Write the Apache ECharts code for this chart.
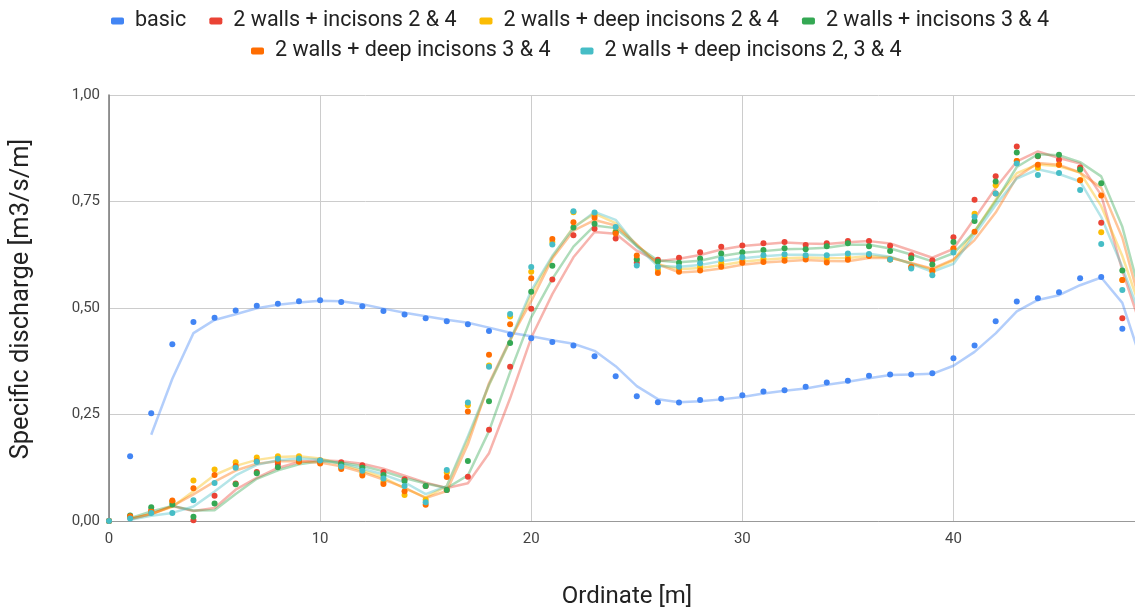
<!DOCTYPE html>
<html>
<head>
<meta charset="utf-8">
<script src="https://cdn.jsdelivr.net/npm/echarts@6/dist/echarts.min.js"></script>
<style>
html,body{margin:0;padding:0;background:#fff;}
#chart{width:1135px;height:612px;}
</style>
</head>
<body>
<div id="chart"></div>
<script>
// Ordinate [m] for the coloured series (0..49); basic starts at 1
const ordinates = [0,1,2,3,4,5,6,7,8,9,10,11,12,13,14,15,16,17,18,19,20,21,22,23,24,25,26,27,28,29,30,31,32,33,34,35,36,37,38,39,40,41,42,43,44,45,46,47,48,49];
const basicOrdinates = ordinates.slice(1);

const seriesNames = ["basic","2 walls + incisons 2 & 4","2 walls + deep incisons 2 & 4","2 walls + incisons 3 & 4","2 walls + deep incisons 3 & 4","2 walls + deep incisons 2, 3 & 4"];

const basic = [0.152,0.253,0.415,0.467,0.477,0.494,0.505,0.510,0.516,0.518,0.514,0.504,0.493,0.485,0.476,0.469,0.462,0.446,0.438,0.429,0.420,0.412,0.387,0.340,0.293,0.279,0.278,0.284,0.287,0.295,0.304,0.307,0.315,0.325,0.329,0.341,0.344,0.344,0.347,0.382,0.412,0.469,0.515,0.523,0.537,0.570,0.573,0.451,0.27];

const incisions24 = [0,0.008,0.025,0.045,0.002,0.059,0.088,0.115,0.134,0.143,0.142,0.138,0.131,0.115,0.098,0.082,0.073,0.104,0.214,0.362,0.498,0.567,0.671,0.686,0.663,0.606,0.613,0.618,0.631,0.644,0.647,0.652,0.655,0.648,0.652,0.657,0.657,0.646,0.624,0.612,0.666,0.754,0.809,0.879,0.856,0.848,0.830,0.700,0.476,0.40];

const deep24 = [0,0.010,0.022,0.045,0.095,0.121,0.138,0.149,0.152,0.152,0.142,0.125,0.112,0.092,0.061,0.050,0.114,0.272,0.365,0.480,0.585,0.655,0.725,0.718,0.680,0.615,0.590,0.592,0.596,0.605,0.612,0.615,0.618,0.619,0.615,0.620,0.624,0.614,0.595,0.585,0.638,0.721,0.788,0.845,0.829,0.836,0.800,0.678,0.566,0.39];

const incisions34 = [0,0.013,0.032,0.039,0.010,0.041,0.086,0.112,0.126,0.140,0.140,0.133,0.125,0.108,0.094,0.082,0.073,0.141,0.281,0.418,0.538,0.599,0.689,0.698,0.677,0.614,0.609,0.606,0.616,0.628,0.631,0.636,0.640,0.638,0.645,0.652,0.645,0.634,0.617,0.602,0.655,0.704,0.797,0.865,0.857,0.860,0.825,0.793,0.588,0.42];

const deep34 = [0,0.011,0.022,0.048,0.077,0.108,0.129,0.140,0.141,0.139,0.135,0.122,0.107,0.087,0.070,0.038,0.103,0.257,0.390,0.462,0.570,0.662,0.701,0.712,0.675,0.623,0.582,0.585,0.588,0.597,0.606,0.608,0.611,0.614,0.607,0.613,0.622,0.614,0.597,0.588,0.640,0.679,0.769,0.845,0.836,0.836,0.800,0.764,0.566,0.40];

const deep234 = [0,0.006,0.019,0.019,0.049,0.089,0.125,0.139,0.146,0.147,0.142,0.128,0.118,0.100,0.082,0.044,0.120,0.278,0.362,0.486,0.596,0.649,0.727,0.724,0.690,0.600,0.597,0.597,0.605,0.615,0.619,0.624,0.626,0.624,0.624,0.628,0.627,0.614,0.593,0.577,0.630,0.714,0.769,0.839,0.812,0.817,0.777,0.650,0.542,0.38];

const yTicks = [0,0.25,0.5,0.75,1];
const xTicks = [0,10,20,30,40];
const xTitle = 'Ordinate [m]';
const yTitle = 'Specific discharge [m3/s/m]';

const colors = ["#4285F4","#EA4335","#FBBC04","#34A853","#FF6D01","#46BDC6"];

const allData = [
  [basicOrdinates, basic],
  [ordinates, incisions24],
  [ordinates, deep24],
  [ordinates, incisions34],
  [ordinates, deep34],
  [ordinates, deep234]
];

// moving-average trendline (period 2), as drawn by the spreadsheet
function movingAvg(xs, ys){
  const out = [];
  for (let i = 1; i < ys.length; i++) out.push([xs[i], (ys[i-1] + ys[i]) / 2]);
  return out;
}

const series = [];
allData.forEach((d, i) => {
  series.push({
    name: seriesNames[i], type: 'line', data: movingAvg(d[0], d[1]),
    showSymbol: false, symbol: 'none', z: 1, silent: true,
    lineStyle: { color: colors[i], width: 2.5, opacity: 0.4 },
    itemStyle: { color: colors[i] }
  });
});
allData.forEach((d, i) => {
  series.push({
    name: seriesNames[i], type: 'scatter', data: d[0].map((x, k) => [x, d[1][k]]),
    symbolSize: 6, z: 3,
    itemStyle: { color: colors[i], opacity: 1 }
  });
});

const legendCommon = {
  orient: 'horizontal',
  icon: 'roundRect', itemWidth: 13, itemHeight: 7, itemGap: 23,
  textStyle: { fontFamily: 'Roboto', fontSize: 21.5, color: '#222', padding: [0, 0, 0, 6] }
};

const chart = echarts.init(document.getElementById('chart'), null, { renderer: 'canvas' });
chart.setOption({
  animation: false,
  backgroundColor: '#fff',
  color: colors,
  legend: [
    Object.assign({}, legendCommon, {
      data: seriesNames.slice(0, 4).map((n, i) => ({ name: n, itemStyle: { color: colors[i], opacity: 1 } })),
      top: 5, left: 106
    }),
    Object.assign({}, legendCommon, {
      data: seriesNames.slice(4).map((n, i) => ({ name: n, itemStyle: { color: colors[i + 4], opacity: 1 } })),
      top: 35, left: 246, itemGap: 30
    })
  ],
  graphic: [
    { type: 'text', x: 627, y: 597, style: { text: xTitle, fontFamily: 'Roboto', fontSize: 24, fill: '#222', align: 'center', verticalAlign: 'middle' } },
    { type: 'text', x: 22, y: 299, rotation: Math.PI / 2, style: { text: yTitle, fontFamily: 'Roboto', fontSize: 25.5, fill: '#222', align: 'center', verticalAlign: 'middle' } }
  ],
  grid: { left: 109, right: 0, top: 95, bottom: 91, containLabel: false, outerBoundsMode: 'none' },
  xAxis: {
    type: 'value', min: 0, max: 48.6, interval: 10,
    axisLine: { show: true, lineStyle: { color: '#999', width: 1 } },
    axisTick: { show: false },
    axisLabel: { fontFamily: 'Roboto', fontSize: 15, color: '#444', margin: 11,
      formatter: v => xTicks.includes(v) ? String(v) : '' },
    splitLine: { show: true, lineStyle: { color: '#ccc', width: 1 } }
  },
  yAxis: {
    type: 'value', min: 0, max: 1, interval: 0.25,
    axisLine: { show: true, lineStyle: { color: '#777', width: 1.5 } },
    axisTick: { show: false },
    axisLabel: { fontFamily: 'Roboto', fontSize: 15, color: '#444', margin: 9,
      formatter: v => yTicks.includes(v) ? v.toFixed(2).replace('.', ',') : '' },
    splitLine: { show: true, lineStyle: { color: '#ccc', width: 1 } }
  },
  series: series
});
</script>
</body>
</html>
